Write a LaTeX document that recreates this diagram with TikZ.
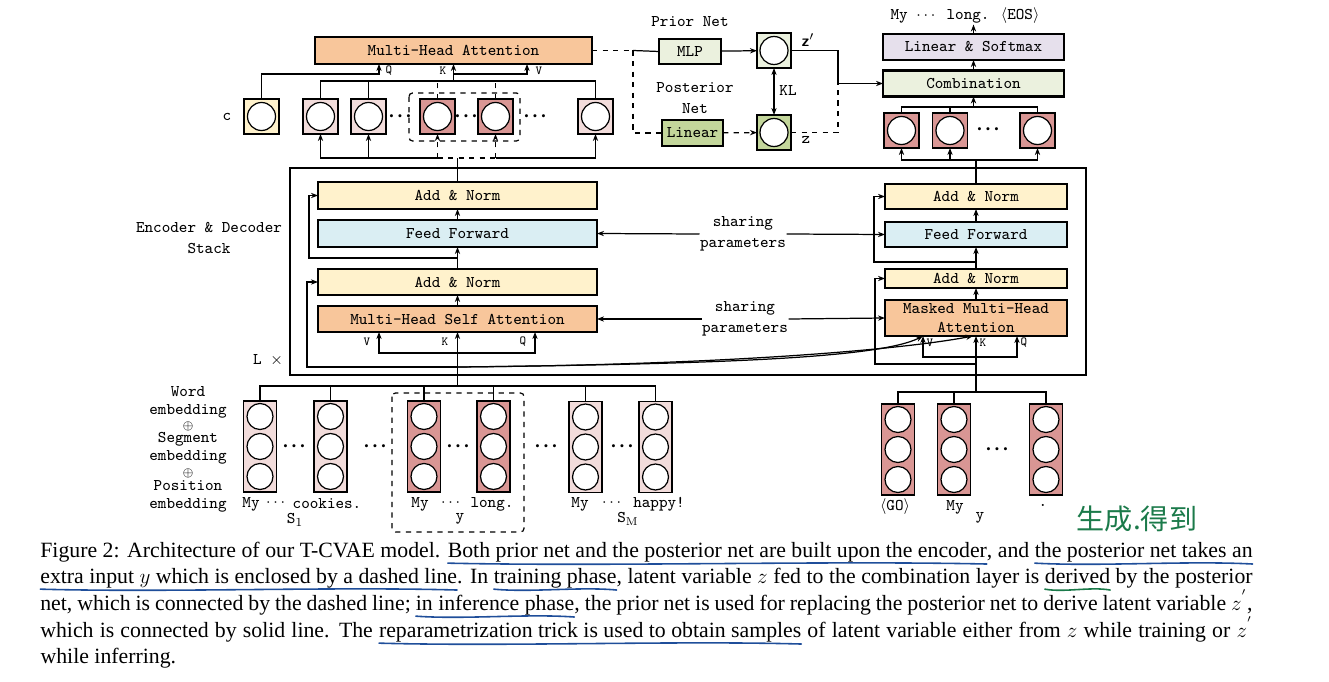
\documentclass[tikz,border=0pt]{standalone}
\usepackage{fontspec}
\usepackage{amsmath}
\usepackage{bm}
\usetikzlibrary{arrows.meta,calc}
\newfontfamily\capfont{Liberation Serif}
\newfontfamily\cjk{Noto Sans CJK SC}
\definecolor{pinkc}{HTML}{F2DCDB}
\definecolor{rosec}{HTML}{D99694}
\definecolor{yelc}{HTML}{FFF2CC}
\definecolor{orac}{HTML}{F8C69B}
\definecolor{bluec}{HTML}{DAEEF3}
\definecolor{lgrnc}{HTML}{EBF1DE}
\definecolor{grnc}{HTML}{C3D69B}
\definecolor{lavc}{HTML}{E6E0EC}
\definecolor{inkblue}{HTML}{1F4E9A}
\definecolor{inkgreen}{HTML}{1B7A4A}
% hand-drawn underline under a piece of caption text
\newsavebox\ulbox
\newlength\ulw
\newcommand\inkline[2][inkblue]{%
  \sbox\ulbox{#2}\setlength\ulw{\wd\ulbox}%
  \rlap{\usebox\ulbox}%
  \tikz[baseline=0pt]{\useasboundingbox (0pt,0pt);
    \draw[#1,line width=0.9pt,line cap=round] (0pt,-3.5pt) .. controls (0.3\ulw,-5.5pt) and (0.7\ulw,-2pt) .. (\ulw,-4pt);}%
  \hspace*{\ulw}}
% heavy ellipsis between cells
\newcommand\celldots{{\fontsize{6}{6}\selectfont\textbullet\kern-0.8pt\textbullet\kern-0.8pt\textbullet}}

\begin{document}
\begin{tikzpicture}[x=0.02cm,y=-0.02cm,line width=0.7pt,>={Stealth[length=4pt,width=3pt]},
  font=\ttfamily\fontsize{9.3}{12}\selectfont,
  sz/.style 2 args={minimum width=#1*0.02cm,minimum height=#2*0.02cm},
  box/.style={draw,inner sep=0pt,outer sep=0pt},
  heavy/.style={line width=1.2pt},
  cell/.style={box,sz={35}{35},path picture={\draw[fill=white] (path picture bounding box.center) circle[radius=0.28cm];}},
  col/.style={box,line width=1pt,sz={33}{91},path picture={\foreach \dy in {-30,0,30} \draw[line width=0.7pt,fill=white] ([yshift=\dy*0.02cm]path picture bounding box.center) circle[radius=0.26cm];}},
  lbl/.style={inner sep=0pt,font=\ttfamily\fontsize{7}{8}\selectfont},
  txt/.style={inner sep=0pt},
  dots/.style={inner sep=0pt,font=\rmfamily},
  dashbox/.style={dashed,rounded corners=2pt},
  capline/.style={inner sep=0pt,anchor=base west,font=\capfont\fontsize{12.4}{14}\selectfont},
]
\useasboundingbox (0,0) rectangle (1329,682);

% top: attention over the encoder outputs
\node[box,fill=orac,sz={277}{27}] (mha) at (453.5,50.5) {Multi-Head Attention};
\node[cell,fill=yelc] (cbox) at (261.5,116.5) {};
\node[txt] (clbl) at (227,117) {c};
\node[cell,fill=pinkc] (e1) at (320.5,116.5) {};
\node[cell,fill=pinkc] (e2) at (368.5,116.5) {};
\node[cell,fill=rosec] (e3) at (437.5,116.5) {};
\node[cell,fill=rosec] (e4) at (495.5,116.5) {};
\node[cell,fill=pinkc] (e5) at (595.5,116.5) {};
\node[dots] (td1) at (400,117) {\celldots};
\node[dots] (td2) at (466,117) {\celldots};
\node[dots] (td3) at (535,117) {\celldots};
\draw[dashbox] (409,93) rectangle (520,141);
\node[lbl] (lq) at (389,71) {Q};
\node[lbl] (lk) at (443,71) {K};
\node[lbl] (lv) at (539,71) {V};

% prior / posterior nets
\node[txt] (prior) at (690,22) {Prior Net};
\node[box,heavy,fill=lgrnc,sz={62}{25}] (mlp) at (690,51.5) {MLP};
\node[box,fill=lgrnc,sz={34}{35},path picture={\draw[fill=white] (path picture bounding box.center) circle[radius=0.28cm];}] (zp) at (774,50.5) {};
\node[txt,align=center] (post) at (695,98) {Posterior\\Net};
\node[box,fill=grnc,sz={61}{26}] (lin) at (692.5,133) {Linear};
\node[box,fill=grnc,sz={34}{35},path picture={\draw[fill=white] (path picture bounding box.center) circle[radius=0.28cm];}] (zz) at (774,132.5) {};
\node[txt,font=\sffamily\bfseries\fontsize{9.3}{11}\selectfont] (zpl) at (808,40) {z$'$};
\node[txt] (zl) at (806,140) {z};
\node[txt] (kl) at (788,91) {KL};

% decoder outputs
\node[txt] (out) at (965,16) {My $\cdots$ long. $\langle$EOS$\rangle$};
\node[box,heavy,fill=lavc,sz={181}{26}] (lsm) at (973.5,47) {Linear \& Softmax};
\node[box,heavy,fill=lgrnc,sz={181}{26}] (comb) at (973.5,83.5) {Combination};
\node[cell,fill=rosec] (o1) at (901.5,130.5) {};
\node[cell,fill=rosec] (o2) at (950,130.5) {};
\node[cell,fill=rosec] (o3) at (1037.5,130.5) {};
\node[dots] (od) at (988,130) {\celldots};

% encoder & decoder stack
\node[box,line width=0.8pt,sz={796}{207}] (stack) at (688,271.5) {};
\node[txt,align=center] (stk) at (209,238) {Encoder \& Decoder\\Stack};
\node[txt] (lx) at (268,360) {L $\times$};
\node[box,fill=yelc,sz={279}{27}] (an1) at (457.5,195.5) {Add \& Norm};
\node[box,fill=bluec,sz={279}{27}] (ff1) at (457.5,233.5) {Feed Forward};
\node[box,fill=yelc,sz={279}{26}] (an2) at (457.5,282) {Add \& Norm};
\node[box,fill=orac,sz={279}{26}] (sa) at (457.5,319) {Multi-Head Self Attention};
\node[box,heavy,fill=yelc,sz={182}{25}] (dan1) at (976,196.5) {Add \& Norm};
\node[box,heavy,fill=bluec,sz={182}{25}] (dff) at (976,234.5) {Feed Forward};
\node[box,fill=yelc,sz={182}{19}] (dan2) at (976,278.5) {Add \& Norm};
\node[box,fill=orac,sz={182}{36},align=center,font=\ttfamily\fontsize{9.3}{11}\selectfont] (dma) at (976,318) {Masked Multi-Head\\Attention};
\node[txt,align=center] (sh1) at (743,234) {sharing\\parameters};
\node[txt,align=center] (sh2) at (745,319) {sharing\\parameters};
\node[lbl] (sv) at (367,342) {V};
\node[lbl] (sk) at (445,342) {K};
\node[lbl] (sq) at (523,342) {Q};
\node[lbl] (dvl) at (930,343) {V};
\node[lbl] (dkl) at (983,343) {K};
\node[lbl] (dql) at (1024,343) {Q};

% input embeddings
\foreach \t/\y [count=\i] in {Word/392,embedding/411,{\fontsize{7}{7}\selectfont$\oplus$}/426.5,Segment/439,embedding/457.5,{\fontsize{7}{7}\selectfont$\oplus$}/473.5,Position/486,embedding/505}
  \node[txt] (emb\i) at (188,\y) {\t};
\node[col,fill=pinkc] (s1) at (260,446.5) {};
\node[col,fill=pinkc] (s2) at (330.5,446.5) {};
\node[col,fill=rosec] (y1) at (424,446.5) {};
\node[col,fill=rosec] (y2) at (493.5,446.5) {};
\node[col,fill=pinkc] (m1) at (585.5,447) {};
\node[col,fill=pinkc] (m2) at (655.5,447) {};
\foreach \x [count=\i] in {294,375,458,546,622}
  \node[dots] (bd\i) at (\x,447) {\celldots};
\draw[dashbox] (392,393) rectangle (524,532);
\node[txt] (w1) at (251,504) {My};
\node[txt] (w2) at (277,503) {$\cdots$};
\node[txt] (w3) at (327,504) {cookies.};
\node[txt] (w4) at (295,520) {S$_1$};
\node[txt] (w5) at (420,504) {My};
\node[txt] (w6) at (452,503) {$\cdots$};
\node[txt] (w7) at (492,504) {long.};
\node[txt] (w8) at (460,519) {y};
\node[txt] (w9) at (580,504) {My};
\node[txt] (w10) at (613,503) {$\cdots$};
\node[txt] (w11) at (659,504) {happy!};
\node[txt] (w12) at (628,519) {S$_{\mathrm{M}}$};
\node[col,fill=rosec] (g1) at (898,449.5) {};
\node[col,fill=rosec] (g2) at (954,449.5) {};
\node[col,fill=rosec] (g3) at (1046,449.5) {};
\node[dots] (gd) at (997,450) {\celldots};
\node[txt] (x1) at (895,507) {$\langle$GO$\rangle$};
\node[txt] (x2) at (955,507) {My};
\node[txt] (x3) at (980,518) {y};
\node[txt] (x4) at (1043,505) {.};
\node[text=inkgreen,inner sep=0pt,font=\cjk\fontsize{16}{16}\selectfont] (note) at (1137,519) {生成.得到};

% connections above the stack
\coordinate (tb) at (453.5,81);
\coordinate (qb) at (379,74);
\coordinate (vb) at (527,74);
\coordinate (eb) at (457.5,158);
\draw (e1.north) |- (e5.north |- tb) -- (e5.north);
\draw (e2.north) -- (e2.north |- tb);
\draw[dashed] (e3.north) -- (e3.north |- tb);
\draw[dashed] (e4.north) -- (e4.north |- tb);
\draw[->] (tb) -- (mha.south);
\draw[->] (cbox.north) |- (qb) -- (qb |- mha.south);
\draw[->] (mha.south |- vb) -- (vb) -- (vb |- mha.south);
\draw (an1.north) -- (eb);
\draw[->] (e3.south |- eb) -| (e1.south);
\draw[->] (e2.south |- eb) -- (e2.south);
\draw[dashed] (e3.south |- eb) -- (e4.south |- eb);
\draw[dashed,->] (e3.south |- eb) -- (e3.south);
\draw[dashed,->] (e4.south |- eb) -- (e4.south);
\draw[->] (e4.south |- eb) -| (e5.south);

% prior and posterior paths
\coordinate (jn) at (633,50.5);
\coordinate (zj) at (838,83.5);
\draw[dashed] (mha.east) -- (jn);
\draw (jn) -- (mlp.west);
\draw[dashed] (jn) |- (lin.west);
\draw[->] (mlp) -- (zp);
\draw[dashed,->] (lin) -- (zz);
\draw[<->] (zp) -- (zz);
\draw[->] (zp.east) -| (zj) -- (comb.west);
\draw[dashed] (zz.east) -| (zj);

% decoder output side
\coordinate (cb) at (973.5,107);
\coordinate (ob) at (976,160);
\draw (o1.north) |- (cb);
\draw (o3.north) |- (cb);
\draw (o2.north) -- (o2.north |- cb);
\draw[->] (cb) -- (comb.south);
\draw[->] (comb) -- (lsm);
\draw[->] (lsm.north) -- (lsm.north |- out.south);
\draw (dan1.north) -- (ob);
\draw[->] (ob) -| (o1.south);
\draw[->] (ob) -| (o3.south);
\draw[->] (o2.south |- ob) -- (o2.south);

% encoder layer
\coordinate (r1) at (457.5,258);
\coordinate (r2) at (457.5,367);
\coordinate (qkv) at (457.5,353);
\coordinate (ein) at (457.5,386);
\draw[->] (sa) -- (an2);
\draw[->] (an2) -- (ff1);
\draw[->] (ff1) -- (an1);
\draw[->] (r1) -- (309,258) |- (an1.west);
\draw[->] (r2) -- (307,367) |- (an2.west);
\draw[->] (qkv) -| ($(sa.south)+(-78.5,0)$);
\draw[->] (qkv) -| ($(sa.south)+(77.5,0)$);
\draw[->] (ein) -- (sa.south);

% decoder layer
\coordinate (dr1) at (976,262);
\coordinate (dr2) at (976,364);
\coordinate (dq) at (976,357);
\coordinate (din) at (976,392);
\coordinate (dv) at ($(dma.south)+(-53,0)$);
\coordinate (dk) at ($(dma.south)+(-3,0)$);
\draw[->] (dma) -- (dan2);
\draw[->] (dan2) -- (dff);
\draw[->] (dff) -- (dan1);
\draw[->] (dr1) -- (874,262) |- (dan1.west);
\draw[->] (dr2) -- (875,364) |- (dan2.west);
\draw[->] (dq) -| (dv);
\draw[->] (dq) -| ($(dma.south)+(41,0)$);
\draw[->] (din) -- (dma.south);
\draw[->] (r2) .. controls (720,364) and (880,358) .. (dv);
\draw[->] (r2) .. controls (720,365) and (900,350) .. (dk);

% shared parameters
\draw[->] (sh1.west) -- (ff1.east);
\draw[->] (sh1.east) -- (dff.west);
\draw[->] (sh2.west) -- (sa.east);
\draw[->] (sh2.east) -- (dma.west);

% inputs
\draw (s1.north) |- (ein);
\draw (m2.north) |- (ein);
\draw (s2.north) -- (s2.north |- ein);
\draw (y1.north) -- (y1.north |- ein);
\draw (y2.north) -- (y2.north |- ein);
\draw (m1.north) -- (m1.north |- ein);
\draw (g1.north) |- (din);
\draw (g3.north) |- (din);
\draw (g2.north) -- (g2.north |- din);

% caption
\node[capline] (cap1) at (40,557) {\makebox[690pt][s]{Figure 2: Architecture of our T-CVAE model. \inkline{Both prior net and the posterior net are built upon the encoder}, and \inkline{the posterior net takes an}}};
\node[capline] (cap2) at (40,583) {\makebox[690pt][s]{\inkline{extra input $y$ which is enclosed by a dashed line}. In \inkline{training phase}, latent variable $z$ fed to the combination layer is \inkline[inkgreen]{derived} by the posterior}};
\node[capline] (cap3) at (40,610) {\makebox[690pt][s]{net, which is connected by the dashed line; \inkline{in inference phase}, the prior net is used for replacing the posterior net to derive latent variable $z^{'}$,}};
\node[capline] (cap4) at (40,637) {\makebox[690pt][s]{which is connected by solid line. The \inkline{reparametrization trick is used to obtain samples} of latent variable either from $z$ while training or $z^{'}$}};
\node[capline] (cap5) at (40,663) {while inferring.};
\end{tikzpicture}
\end{document}
